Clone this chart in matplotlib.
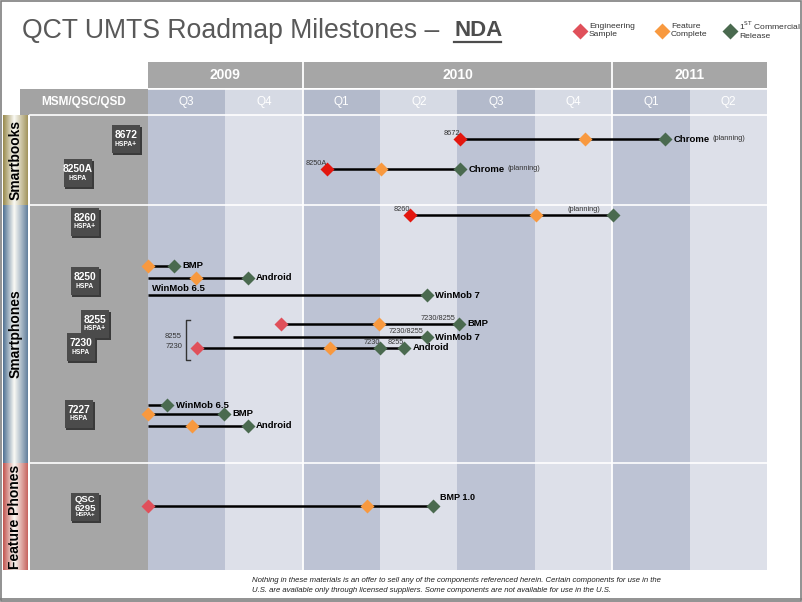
import numpy as np
import matplotlib
matplotlib.use("Agg")
import matplotlib.pyplot as plt
from matplotlib.patches import Rectangle

plt.rcParams["font.family"] = ["Liberation Sans", "DejaVu Sans"]

nan = np.nan

# ---- data ----
years = ["2009", "2010", "2011"]
year_quarters = [2, 4, 2]
quarters = ["Q3", "Q4", "Q1", "Q2", "Q3", "Q4", "Q1", "Q2"]

sections = ["Smartbooks", "Smartphones", "Feature Phones"]

chips = ["8672", "8250A", "8260", "8250", "8255", "7230", "7227", "QSC\n6295"]
chip_types = ["HSPA+", "HSPA", "HSPA+", "HSPA", "HSPA+", "HSPA", "HSPA", "HSPA+"]

# milestones in quarters after start of 2009 Q3
row_labels = ["Chrome", "Chrome", "", "BMP", "Android", "WinMob 7", "BMP",
              "WinMob 7", "Android", "WinMob 6.5", "BMP", "Android", "BMP 1.0"]
line_start = [4.03, 2.31, 3.39, 0.00, 0.00, 0.00, 1.72, 1.10, 0.63, 0.00, 0.00, 0.00, 0.00]
eng_sample = [4.03, 2.31, 3.39, nan, nan, nan, 1.72, nan, 0.63, nan, nan, nan, 0.00]
feat_complete = [5.65, 3.01, 5.01, 0.00, 0.62, nan, 2.98, nan, 2.35, nan, 0.00, 0.57, 2.83]
comm_release = [6.68, 4.03, 6.01, 0.34, 1.29, 3.60, 4.02, 3.60, 3.31, 0.25, 0.98, 1.29, 3.68]
extra_release_row = [8]
extra_release = [3.00]
planning_rows = [0, 1]

# small notes: (row, quarter position, text)
notes = [(0, 4.03, "8672"), (1, 2.31, "8250A"), (2, 3.39, "8260"),
         (2, 5.85, "(planning)"), (6, 3.97, "7230/8255"), (7, 3.56, "7230/8255"),
         (8, 3.00, "7230"), (8, 3.31, "8255")]

# ---- layout (pixels) ----
W, H = 802, 602
x0, x1 = 148, 767
y_top, y_bot = 62, 570
row_y = [139, 169, 215, 266, 278, 295, 324, 337, 348, 405, 414, 426, 506]
section_bounds = [115, 205, 463, 570]
section_dark = [(0.60, 0.54, 0.30), (0.32, 0.45, 0.58), (0.76, 0.33, 0.31)]
chip_xy = [(126, 139), (78, 173), (85, 222), (85, 281), (95, 324), (81, 347), (79, 414), (85, 507)]
es_colors = ["#e3170f", "#e3170f", "#e3170f", None, None, None, "#e0505a",
             None, "#e0505a", None, None, None, "#e0505a"]

FC = "#f8993f"
CR = "#4a6a4f"

fig = plt.figure(figsize=(W / 100, H / 100), dpi=100)
bg = fig.add_axes([0, 0, 1, 1])
bg.axis("off")

# frame
bg.add_patch(Rectangle((0.5, 0.5), W - 1.5, H - 1.5, fill=False, ec="#7f7f7f", lw=1.2))

# title
bg.text(22, 31, "QCT UMTS Roadmap Milestones \u2013", fontsize=19.2, color="#595959",
        va="center", ha="left")
bg.text(454, 31, "NDA", fontsize=16, color="#4d4d4d", fontweight="bold", va="center", ha="left")
bg.plot([454, 501], [42, 42], color="#4d4d4d", lw=1.6)

# legend
leg = [(580, "#e0505a", "Engineering\nSample"), (662, FC, "Feature\nComplete"),
       (730, CR, "1$^{\\mathrm{ST}}$ Commercial\nRelease")]
for lx, lc, lt in leg:
    bg.plot(lx, 31, marker="D", color=lc, ms=8.5, mec="none")
    bg.text(lx + 9, 30, lt, fontsize=6.1, color="#333333", va="center", ha="left",
            linespacing=1.2)

# left header
bg.add_patch(Rectangle((20, 89), 128, 26, color="#a3a3a3", lw=0))
bg.text(84, 102, "MSM/QSC/QSD", fontsize=8.5, fontweight="bold", color="white",
        ha="center", va="center")

# left panel
bg.add_patch(Rectangle((30, 115), 118, 455, color="#a6a6a6", lw=0))

# side bars with gradient
prof = np.linspace(0, 1, 64)
for i, name in enumerate(sections):
    ya, yb = section_bounds[i], section_bounds[i + 1]
    dark = np.array(section_dark[i])
    w = np.interp(prof, [0, 0.45, 1], [0.0, 1.0, 0.1])
    grad = dark[None, :] * (1 - w[:, None]) + w[:, None] * np.array([0.98, 0.98, 0.96])
    bg.imshow(grad[None, :, :], extent=(3, 28, yb, ya), aspect="auto", zorder=1)
    bg.text(15.5, (ya + yb) / 2, name, rotation=90, fontsize=10, fontweight="bold",
            ha="center", va="center", zorder=2)
    bg.plot([30, 148], [ya, ya], color="white", lw=1.2, zorder=2)
bg.set_xlim(0, W)
bg.set_ylim(H, 0)

# chips
for (cx, cy), name, typ in zip(chip_xy, chips, chip_types):
    bg.add_patch(Rectangle((cx - 13.5, cy - 12.5), 29, 28, color="#3a3a3a", lw=0, zorder=3))
    bg.add_patch(Rectangle((cx - 14.5, cy - 14), 28.5, 27.5, color="#4b4b4b", lw=0, zorder=4))
    if "\n" in name:
        bg.text(cx, cy - 3, name, fontsize=6.8, fontweight="bold", color="white",
                ha="center", va="center", zorder=5, linespacing=0.95)
        bg.text(cx, cy + 8, typ, fontsize=4.3, fontweight="bold", color="white",
                ha="center", va="center", zorder=5)
    else:
        bg.text(cx, cy - 4, name, fontsize=7.4, fontweight="bold", color="white",
                ha="center", va="center", zorder=5)
        bg.text(cx, cy + 5, typ, fontsize=4.8, fontweight="bold", color="white",
                ha="center", va="center", zorder=5)

# footer
bg.text(252, 581, "Nothing in these materials is an offer to sell any of the components "
        "referenced herein. Certain components for use in the", fontsize=5.6,
        style="italic", color="#222222", ha="left", va="center")
bg.text(252, 591, "U.S. are available only through licensed suppliers. Some components "
        "are not available for use in the U.S.", fontsize=5.6,
        style="italic", color="#222222", ha="left", va="center")
bg.plot([0, W], [599, 599], color="#7f7f7f", lw=1.2)

# ---- timeline axes ----
ax = fig.add_axes([x0 / W, 1 - y_bot / H, (x1 - x0) / W, (y_bot - y_top) / H])
ax.set_xlim(0, len(quarters))
ax.set_ylim(y_bot, y_top)
ax.axis("off")

dark_body, light_body = "#bdc3d4", "#dde0e9"
dark_head, light_head = "#b3bacb", "#d6dae4"
for q, lab in enumerate(quarters):
    dark_col = (q % 2 == 0)
    ax.axvspan(q, q + 1, ymin=0, ymax=(y_bot - 115) / (y_bot - y_top),
               color=dark_body if dark_col else light_body, lw=0, zorder=0)
    ax.add_patch(Rectangle((q, 89), 1, 26, color=dark_head if dark_col else light_head,
                           lw=0, zorder=0))
    ax.text(q + 0.5, 102, lab, fontsize=8.5, color="white", ha="center", va="center")

start = 0
for yr, n in zip(years, year_quarters):
    ax.add_patch(Rectangle((start, y_top), n, 26, color="#a6a6a6", lw=0, zorder=0))
    ax.text(start + n / 2, 75, yr, fontsize=10, fontweight="bold", color="white",
            ha="center", va="center")
    if start > 0:
        ax.plot([start, start], [y_top, y_bot], color="white", lw=1.3, zorder=1)
    start += n

for yb in [88.5, 115] + section_bounds[1:3]:
    ax.plot([0, len(quarters)], [yb, yb], color="white", lw=1.2, zorder=1)

# milestone rows
for i, y in enumerate(row_y):
    ax.plot([line_start[i], comm_release[i]], [y, y], color="black", lw=1.8, zorder=2,
            solid_capstyle="butt")
    if not np.isnan(eng_sample[i]):
        ax.plot(eng_sample[i], y, marker="D", color=es_colors[i], ms=7, mec="none", zorder=3,
                clip_on=False)
    if not np.isnan(feat_complete[i]):
        ax.plot(feat_complete[i], y, marker="D", color=FC, ms=7, mec="none", zorder=3,
                clip_on=False)
    ax.plot(comm_release[i], y, marker="D", color=CR, ms=7, mec="none", zorder=3,
            clip_on=False)

for r, xq in zip(extra_release_row, extra_release):
    ax.plot(xq, row_y[r], marker="D", color=CR, ms=7, mec="none", zorder=3)

# main labels
for i, y in enumerate(row_labels):
    if not y:
        continue
    if y == "BMP 1.0":
        ax.annotate(y, (comm_release[i], row_y[i]), xytext=(5, 6), textcoords="offset points",
                    fontsize=6.5, fontweight="bold", va="center", ha="left")
        continue
    t = ax.annotate(y, (comm_release[i], row_y[i]), xytext=(6, 0), textcoords="offset points",
                    fontsize=6.8, fontweight="bold", va="center", ha="left")
    if i in planning_rows:
        ax.annotate("(planning)", xy=(1, 0.5), xycoords=t, xytext=(2.5, 0),
                    textcoords="offset points", fontsize=5.3, va="center", ha="left",
                    color="#333333")

ax.annotate("WinMob 6.5", (line_start[5], row_y[5]), xytext=(3, 4.5), textcoords="offset points",
            fontsize=6.8, fontweight="bold", va="center", ha="left")

for r, xq, txt in notes:
    ax.annotate(txt, (xq, row_y[r]), xytext=(0, 4), textcoords="offset points",
                fontsize=5.3, va="center", ha="right", color="#333333")

# ---- overlay in pixel coordinates: bracket for 8255/7230 ----
top = fig.add_axes([0, 0, 1, 1])
top.patch.set_alpha(0)
top.axis("off")
top.set_xlim(0, W)
top.set_ylim(H, 0)
top.plot([190, 186, 186, 190], [320, 320, 360, 360], color="#333333", lw=1.0)
top.text(182, 337, "8255", fontsize=5.5, color="#333333", ha="right", va="center")
top.text(182, 346, "7230", fontsize=5.5, color="#333333", ha="right", va="center")

fig.savefig("out.png", dpi=100)
